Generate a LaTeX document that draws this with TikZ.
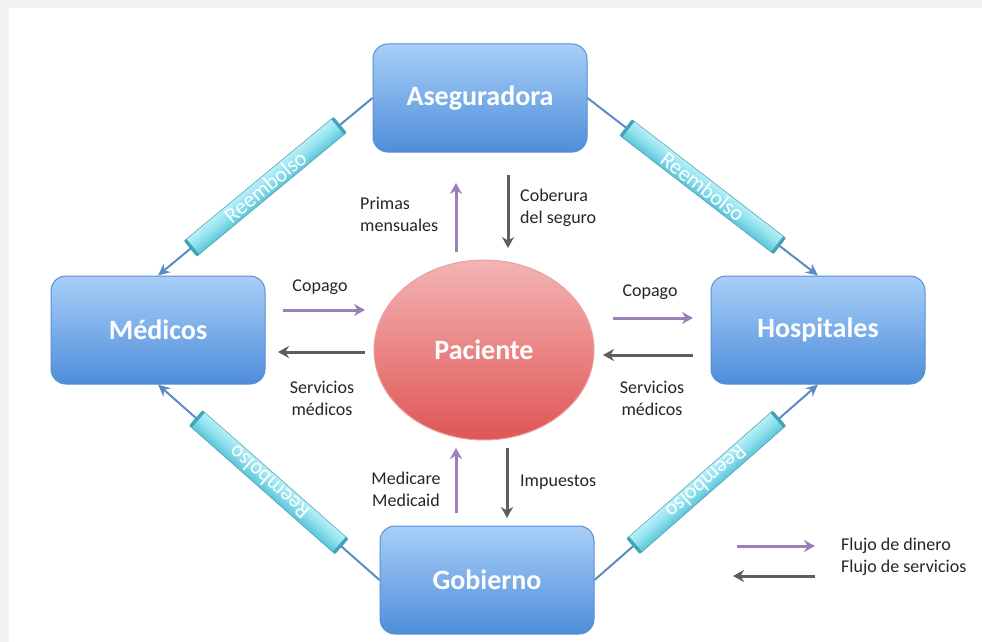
\documentclass[tikz,border=0pt]{standalone}
\usepackage{fontspec}
\setmainfont{Carlito}
\usetikzlibrary{arrows.meta,shapes.geometric}
\definecolor{boxtop}{HTML}{A8CFF8}
\definecolor{boxbot}{HTML}{4E8DDA}
\definecolor{boxline}{HTML}{5B8FCF}
\definecolor{elltop}{HTML}{F4B4B4}
\definecolor{ellbot}{HTML}{E05555}
\definecolor{ellline}{HTML}{E8A0A0}
\definecolor{connblue}{HTML}{5B8AC6}
\definecolor{moneycol}{HTML}{9A80BA}
\definecolor{servcol}{HTML}{5E5E5E}
\definecolor{tubetop}{HTML}{B8F0F8}
\definecolor{tubemid}{HTML}{8EE0EE}
\definecolor{tubebot}{HTML}{5CC4D8}
\definecolor{tubeend}{HTML}{3FA3B8}
\definecolor{txt}{HTML}{262626}
\definecolor{bggray}{HTML}{F2F2F2}
\newcommand{\reimbtube}[4]{%
  \begin{scope}[transform canvas={shift={(#1)}, rotate=#2}]
    \shade[tubebody] (-97,-10) rectangle (97,10);
    \fill[tubeend] (-97,-10) rectangle (-94,10);
    \fill[tubeend] (94,-10) rectangle (97,10);
    \node[tubetext, rotate=#3] (#4) at (0,0) {Reembolso};
  \end{scope}}
\begin{document}
\begin{tikzpicture}[x=1pt,y=-1pt,
  party/.style={rectangle, rounded corners=15pt, minimum width=214pt, minimum height=108pt,
    top color=boxtop, bottom color=boxbot, draw=boxline, line width=1pt,
    text=white, font=\fontsize{28}{32}\selectfont\bfseries},
  patient/.style={ellipse, minimum width=220pt, minimum height=180pt,
    top color=elltop, bottom color=ellbot, draw=ellline, line width=1pt,
    text=white, font=\fontsize{28}{32}\selectfont\bfseries},
  link/.style={draw=connblue, line width=2pt, -{Stealth[length=12pt,width=11pt]}},
  linkrev/.style={draw=connblue, line width=2pt, {Stealth[length=12pt,width=11pt]}-},
  tubebody/.style={top color=tubetop, bottom color=tubebot, middle color=tubemid,
    draw=tubebot!80!black, line width=0.5pt, rounded corners=2pt},
  tubetext/.style={text=white, inner sep=0pt, font=\fontsize{22}{22}\selectfont},
  money/.style={draw=moneycol, line width=3pt, -{Stealth[length=11pt,width=12pt]}},
  serv/.style={draw=servcol, line width=3pt, -{Stealth[length=11pt,width=12pt]}},
  lbl/.style={text=txt, inner sep=0pt, font=\fontsize{18}{22}\selectfont}
]
\fill[bggray] (0,0) rectangle (982,642);
\fill[white] (9,8) rectangle (982,642);
\useasboundingbox (0,0) rectangle (982,642);

% main nodes
\node[party] (aseg) at (480,98) {Aseguradora};
\node[party] (med) at (158,330) {Médicos};
\node[party] (hosp) at (818,330) {Hospitales};
\node[party] (gob) at (487,580) {Gobierno};
\node[patient] (pac) at (484,350) {Paciente};

% reimbursement connectors
\draw[linkrev] (med.north) -- coordinate[pos=0.5] (mtl) (aseg.west);
\draw[link] (aseg.east) -- coordinate[pos=0.5] (mtr) (hosp.north);
\draw[link] (gob.west) -- coordinate[pos=0.5] (mbl) (med.south);
\draw[linkrev] (hosp.south) -- coordinate[pos=0.5] (mbr) (gob.east);

\reimbtube{mtl}{39.6}{0}{rtl}
\reimbtube{mtr}{-37.6}{0}{rtr}
\reimbtube{mbl}{-41.4}{180}{rbl}
\reimbtube{mbr}{41.2}{180}{rbr}

% flow arrow end points
\coordinate (pm1) at (456,252); \coordinate (pm2) at (456,183);
\coordinate (cb1) at (508,175); \coordinate (cb2) at (508,248);
\coordinate (cl1) at (283,310); \coordinate (cl2) at (365,310);
\coordinate (sl1) at (365,352); \coordinate (sl2) at (278,352);
\coordinate (cr1) at (613,318); \coordinate (cr2) at (693,318);
\coordinate (sr1) at (693,355); \coordinate (sr2) at (603,355);
\coordinate (mc1) at (456,513); \coordinate (mc2) at (456,448);
\coordinate (im1) at (507,448); \coordinate (im2) at (507,518);
\coordinate (lg1) at (737,546); \coordinate (lg2) at (815,546);
\coordinate (lg3) at (815,576); \coordinate (lg4) at (733,576);

\draw[money] (pm1) -- (pm2);
\draw[serv] (cb1) -- (cb2);
\draw[money] (cl1) -- (cl2);
\draw[serv] (sl1) -- (sl2);
\draw[money] (cr1) -- (cr2);
\draw[serv] (sr1) -- (sr2);
\draw[money] (mc1) -- (mc2);
\draw[serv] (im1) -- (im2);
\draw[money] (lg1) -- (lg2);
\draw[serv] (lg3) -- (lg4);

% labels
\node[lbl] (tcl) at (320,287) {Copago};
\node[lbl, align=center] (tsl) at (322,398) {Servicios\\médicos};
\node[lbl] (tcr) at (650,292) {Copago};
\node[lbl, align=center] (tsr) at (652,398) {Servicios\\médicos};
\node[lbl, align=left, anchor=west] (tpm) at (360,214) {Primas\\mensuales};
\node[lbl, align=left, anchor=west] (tcb) at (520,208) {Coberura\\del seguro};
\node[lbl, align=center] (tmc) at (406,489) {Medicare\\Medicaid};
\node[lbl, anchor=west] (tim) at (520,482) {Impuestos};
\node[lbl, anchor=west] (tl1) at (841,546) {Flujo de dinero};
\node[lbl, anchor=west] (tl2) at (841,568) {Flujo de servicios};
\end{tikzpicture}
\end{document}
